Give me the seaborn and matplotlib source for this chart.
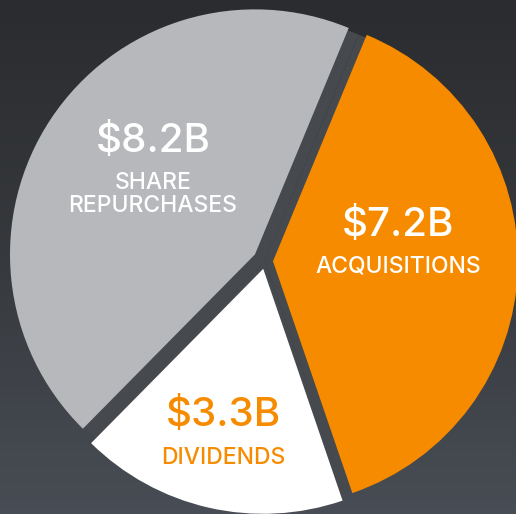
import numpy as np
import matplotlib.pyplot as plt
from matplotlib.colors import LinearSegmentedColormap
import seaborn as sns

# capital allocation split, in $B
categories = ['ACQUISITIONS', 'SHARE\nREPURCHASES', 'DIVIDENDS']
values = [7.2, 8.2, 3.3]
value_labels = ['$7.2B', '$8.2B', '$3.3B']

slice_colors = ['#f78b00', '#b7b8bb', '#ffffff']
text_colors = ['#ffffff', '#ffffff', '#f78b00']

sns.set_theme(style='dark', rc={'figure.facecolor': '#2e3033', 'axes.facecolor': '#2e3033'})
plt.rcParams['font.family'] = ['Inter', 'DejaVu Sans']

W, H = 516, 514
fig = plt.figure(figsize=(W / 100, H / 100), dpi=100)
ax = fig.add_axes([0, 0, 1, 1])

# blurred-photo look of the backdrop: darker on top, lighter towards the bottom
bg = LinearSegmentedColormap.from_list('bg', ['#484d55', '#36393d', '#2b2c2f'])
ax.imshow(np.linspace(0, 1, 64).reshape(-1, 1), cmap=bg, aspect='auto',
          extent=(0, W, 0, H), origin='lower', zorder=0)

cx, cy, r = 265, H - 261, 245
start = -71.1

# darker "shadow" pie that shows through the gaps
wedges, _ = ax.pie(values, colors=['#46494d'] * 3, startangle=start, center=(cx, cy), radius=r,
                   wedgeprops={'linewidth': 0})
ax.pie(values, colors=slice_colors, startangle=start, center=(cx, cy), radius=r,
       explode=[8, 12, 8], wedgeprops={'linewidth': 0})

# label positions (x, baseline of number, baseline of name)
label_pos = [(398, 236, 272), (153, 151.5, 189), (223, 426.5, 464)]
for (x, yb, yl), num, name, col in zip(label_pos, value_labels, categories, text_colors):
    ax.text(x, H - yb, num, ha='center', va='baseline', color=col,
            fontsize=29, fontweight='medium')
    lines = name.split('\n')
    for i, line in enumerate(lines):
        ax.text(x, H - yl - 22.7 * i, line, ha='center', va='baseline', color=col,
                fontsize=16.5, fontweight='medium')

ax.set_xlim(0, W)
ax.set_ylim(0, H)
ax.axis('off')

fig.savefig('out.png', dpi=100, facecolor=fig.get_facecolor())
